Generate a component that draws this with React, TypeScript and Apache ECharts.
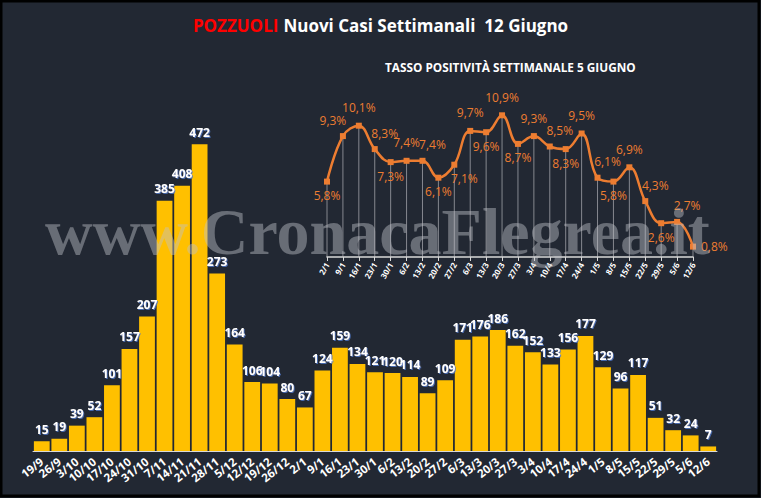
import React, { useEffect, useRef } from "react";
import * as echarts from "echarts";

const weeks = ["19/9","26/9","3/10","10/10","17/10","24/10","31/10","7/11","14/11","21/11","28/11","5/12","12/12","19/12","26/12","2/1","9/1","16/1","23/1","30/1","6/2","13/2","20/2","27/2","6/3","13/3","20/3","27/3","3/4","10/4","17/4","24/4","1/5","8/5","15/5","22/5","29/5","5/6","12/6"];
const newCases = [15,19,39,52,101,157,207,385,408,472,273,164,106,104,80,67,124,159,134,121,120,114,89,109,171,176,186,162,152,133,156,177,129,96,117,51,32,24,7];

const rateWeeks = ["2/1","9/1","16/1","23/1","30/1","6/2","13/2","20/2","27/2","6/3","13/3","20/3","27/3","3/4","10/4","17/4","24/4","1/5","8/5","15/5","22/5","29/5","5/6","12/6"];
const positivity = [5.8,9.3,10.1,8.3,7.3,7.4,7.4,6.1,7.1,9.7,9.6,10.9,8.7,9.3,8.5,8.3,9.5,6.1,5.8,6.9,4.3,2.6,2.7,0.8];
const labelPlacement = ["bottom","topLeft","top","topRight","bottom","top","topRight","bottom","bottomRight","top","bottom","top","bottom","top","topRight","bottom","top","topRight","bottom","top","topRight","bottom","topRight","right"];

const placementOffset: Record<string, [string, number[]]> = {
  bottom: ["bottom", [0, 0]],
  top: ["top", [0, -4]],
  topLeft: ["top", [-10, -2]],
  topRight: ["top", [10, -2]],
  bottomRight: ["bottom", [10, 0]],
  right: ["right", [0, 0]],
};

export default function App() {
  const ref = useRef<HTMLDivElement>(null);
  useEffect(() => {
    if (!ref.current) return;
    const chart = echarts.init(ref.current, null, { renderer: "svg" });
    const font = "'Open Sans', 'Noto Sans', sans-serif";
    chart.setOption({
      animation: false,
      backgroundColor: "#222833",
      title: {
        text: "{r|POZZUOLI} {w|Nuovi Casi Settimanali  12 Giugno}",
        left: "center",
        top: 11,
        textStyle: {
          rich: {
            r: { color: "#ff0000", fontSize: 17, fontWeight: "bold", fontFamily: font },
            w: { color: "#ffffff", fontSize: 17, fontWeight: "bold", fontFamily: font },
          },
        },
      },
      graphic: [
        {
          type: "text",
          left: 385,
          top: 61,
          style: {
            text: "TASSO POSITIVITÀ SETTIMANALE 5 GIUGNO",
            fill: "#ffffff",
            font: "bold 11.8px " + font,
          },
        },
        {
          type: "text",
          left: 45,
          top: 198,
          z: 100,
          silent: true,
          style: {
            text: "www.CronacaFlegrea.it",
            fill: "rgba(190,192,200,0.45)",
            font: "bold 66px 'Liberation Serif', serif",
          },
        },
        {
          type: "rect",
          z: 200,
          shape: { x: 1, y: 1, width: 758, height: 495 },
          style: { fill: "none", stroke: "#000000", lineWidth: 3 },
        },
      ],
      grid: [
        { left: 33, right: 44, top: 126, bottom: 47 },
        { left: 327, right: 68, top: 101, bottom: 241 },
      ],
      xAxis: [
        {
          type: "category",
          gridIndex: 0,
          data: weeks,
          axisLine: { lineStyle: { color: "#d9d9d9", width: 1 } },
          axisTick: { show: false },
          axisLabel: {
            color: "#ffffff",
            fontWeight: "bold",
            fontSize: 11.5,
            fontFamily: font,
            rotate: 38,
            interval: 0,
            margin: 9,
          },
        },
        {
          type: "category",
          gridIndex: 1,
          data: rateWeeks,
          boundaryGap: false,
          axisLine: { lineStyle: { color: "#d9d9d9", width: 1.5 } },
          axisTick: { show: true, alignWithLabel: true, length: 4, lineStyle: { color: "#d9d9d9" } },
          axisLabel: {
            color: "#ffffff",
            fontSize: 8,
            fontWeight: "bold",
            fontFamily: font,
            rotate: 60,
            interval: 0,
            margin: 6,
          },
        },
      ],
      yAxis: [
        { type: "value", gridIndex: 0, min: 0, max: 500, show: false, splitLine: { show: false } },
        { type: "value", gridIndex: 1, min: 0, max: 12, show: false, splitLine: { show: false } },
      ],
      series: [
        {
          type: "bar",
          xAxisIndex: 0,
          yAxisIndex: 0,
          data: newCases,
          barCategoryGap: "10%",
          itemStyle: { color: "#ffc000" },
          label: {
            show: true,
            position: "top",
            distance: 6,
            color: "#ffffff",
            fontWeight: "bold",
            fontSize: 12,
            fontFamily: font,
            textShadowColor: "rgba(80,120,200,0.8)",
            textShadowBlur: 1,
            textShadowOffsetX: 1,
            textShadowOffsetY: 1,
          },
        },
        {
          type: "bar",
          xAxisIndex: 1,
          yAxisIndex: 1,
          data: positivity,
          barWidth: 1,
          itemStyle: { color: "rgba(200,200,205,0.6)" },
          silent: true,
          z: 1,
        },
        {
          type: "line",
          xAxisIndex: 1,
          yAxisIndex: 1,
          smooth: 0.4,
          symbol: "rect",
          symbolSize: 6,
          z: 5,
          lineStyle: { color: "#ed7d31", width: 2.5 },
          itemStyle: { color: "#ed7d31" },
          data: positivity.map((v, i) => {
            const [pos, off] = placementOffset[labelPlacement[i]];
            return {
              value: v,
              label: { position: pos, offset: off },
            };
          }),
          label: {
            show: true,
            color: "#ed7d31",
            fontSize: 12,
            fontFamily: font,
            formatter: (p: any) => String(p.value).replace(".", ",") + "%",
          },
        },
      ],
    });
    return () => chart.dispose();
  }, []);
  return (
    <div
      ref={ref}
      style={{ position: "absolute", left: 0, top: 0, width: 761, height: 498 }}
    />
  );
}
